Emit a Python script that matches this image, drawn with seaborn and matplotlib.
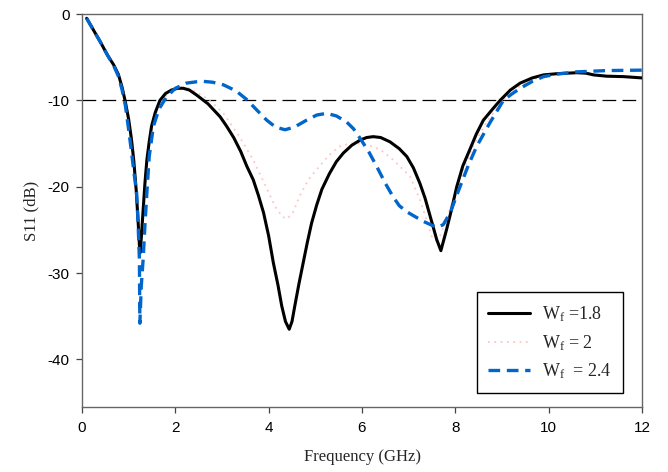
import matplotlib
matplotlib.use("Agg")
import matplotlib.pyplot as plt
import seaborn as sns
import pandas as pd

# Return loss of the antenna for three feed widths (GHz, dB)
freq_18 = [0.10, 0.25, 0.40, 0.55, 0.68, 0.78, 0.86, 0.93, 1.00, 1.06, 1.11, 1.16, 1.20, 1.24,
           1.27, 1.31, 1.35, 1.39, 1.44, 1.49, 1.57, 1.67, 1.79, 1.92, 2.05, 2.17, 2.30, 2.46,
           2.70, 2.96, 3.10, 3.25, 3.40, 3.53, 3.67, 3.78, 3.89, 4.00, 4.10, 4.20, 4.28, 4.36,
           4.44, 4.50, 4.56, 4.65, 4.74, 4.83, 4.92, 5.03, 5.14, 5.30, 5.45, 5.60, 5.78, 5.96,
           6.10, 6.24, 6.40, 6.60, 6.80, 6.96, 7.10, 7.24, 7.35, 7.46, 7.60, 7.69, 7.81, 7.92,
           8.03, 8.16, 8.31, 8.45, 8.60, 8.80, 8.96, 9.18, 9.39, 9.65, 9.89, 10.20, 10.60, 10.80,
           10.96, 11.24, 11.60, 12.00]
s11_18 = [-0.5, -1.9, -3.3, -4.8, -5.9, -7.0, -8.5, -10.2, -12.2, -14.5, -17.0, -20.3, -23.8, -27.7,
          -26.0, -22.7, -19.5, -16.9, -14.8, -13.0, -11.4, -10.0, -9.2, -8.8, -8.6, -8.6, -8.8, -9.4,
          -10.4, -11.9, -13.0, -14.3, -15.9, -17.6, -19.2, -21.0, -23.0, -25.7, -28.8, -31.4, -33.8, -35.6,
          -36.5, -35.6, -33.8, -31.2, -28.8, -26.4, -24.2, -22.1, -20.3, -18.5, -17.1, -16.1, -15.2, -14.6,
          -14.3, -14.2, -14.3, -14.8, -15.6, -16.5, -17.8, -19.6, -21.3, -23.4, -26.1, -27.4, -25.0, -22.6,
          -20.0, -17.6, -15.7, -13.9, -12.3, -11.0, -10.0, -8.8, -8.0, -7.4, -7.05, -6.9, -6.8, -6.85,
          -7.05, -7.2, -7.25, -7.4]

freq_20 = [0.10, 0.25, 0.40, 0.55, 0.68, 0.78, 0.86, 0.93, 1.00, 1.06, 1.11, 1.16, 1.20, 1.24,
           1.28, 1.32, 1.37, 1.44, 1.52, 1.62, 1.78, 1.95, 2.10, 2.30, 2.60, 2.80, 3.03, 3.35,
           3.67, 3.96, 4.15, 4.30, 4.40, 4.52, 4.67, 4.85, 5.03, 5.30, 5.53, 5.75, 5.96, 6.15,
           6.39, 6.67, 7.03, 7.24, 7.38, 7.49, 7.58, 7.68, 7.80, 7.95, 8.15, 8.39, 8.67, 9.00,
           9.39, 9.89, 10.30, 10.60, 11.24, 12.00]
s11_20 = [-0.5, -1.9, -3.3, -4.8, -5.9, -7.1, -8.6, -10.4, -12.5, -14.8, -17.4, -20.8, -24.5, -28.0,
          -24.5, -21.0, -17.8, -14.9, -12.7, -11.0, -9.6, -8.7, -8.5, -8.6, -9.5, -10.3, -11.5, -14.0,
          -16.9, -20.2, -22.4, -23.5, -23.7, -23.0, -21.0, -19.2, -18.0, -16.3, -15.3, -15.0, -15.0, -15.2,
          -15.7, -16.9, -18.8, -21.5, -23.8, -25.7, -26.2, -25.6, -24.0, -21.5, -18.3, -15.2, -12.5, -10.1,
          -8.3, -7.1, -6.85, -6.8, -7.1, -7.3]

freq_24 = [0.10, 0.25, 0.40, 0.55, 0.68, 0.78, 0.86, 0.93, 0.99, 1.05, 1.11, 1.17, 1.20, 1.23,
           1.24, 1.27, 1.31, 1.35, 1.39, 1.44, 1.53, 1.65, 1.81, 2.00, 2.24, 2.45, 2.60, 2.80,
           3.03, 3.30, 3.53, 3.76, 3.96, 4.15, 4.35, 4.55, 4.81, 5.03, 5.24, 5.45, 5.67, 5.82,
           5.96, 6.15, 6.31, 6.50, 6.67, 6.80, 6.96, 7.31, 7.60, 7.74, 7.89, 8.10, 8.28, 8.46,
           8.74, 9.03, 9.20, 9.39, 9.65, 9.89, 10.20, 10.60, 11.24, 12.00]
s11_24 = [-0.5, -1.9, -3.3, -4.8, -6.0, -7.2, -8.8, -10.6, -13.0, -15.5, -18.2, -20.7, -24.0, -28.4,
          -35.8, -31.5, -28.4, -24.3, -20.7, -16.5, -13.0, -11.0, -9.6, -8.6, -8.0, -7.85, -7.8, -7.9,
          -8.2, -8.9, -9.9, -11.2, -12.3, -13.1, -13.4, -13.1, -12.3, -11.7, -11.5, -11.8, -12.5, -13.3,
          -14.4, -16.0, -17.6, -19.6, -21.2, -22.2, -22.9, -24.0, -24.7, -24.4, -23.0, -20.0, -17.5, -15.3,
          -12.6, -10.0, -9.3, -8.6, -7.8, -7.25, -6.95, -6.7, -6.55, -6.5]

labels = [r"W$_\mathregular{f}$ =1.8", r"W$_\mathregular{f}$ = 2", r"W$_\mathregular{f}$  = 2.4"]
x_ticks = [0, 2, 4, 6, 8, 10, 12]
y_ticks = [0, -10, -20, -30, -40]

sns.set_style("white")
plt.rcParams["font.family"] = ["Liberation Sans", "DejaVu Sans"]
plt.rcParams["axes.unicode_minus"] = False
plt.rcParams["mathtext.fontset"] = "custom"
plt.rcParams["mathtext.rm"] = "Liberation Serif"
plt.rcParams["mathtext.it"] = "Liberation Serif"

fig = plt.figure(figsize=(6.68, 4.72), dpi=100)
ax = fig.add_axes([82 / 668, 1 - 407 / 472, 560 / 668, 393 / 472])

df18 = pd.DataFrame({"f": freq_18, "s": s11_18})
df20 = pd.DataFrame({"f": freq_20, "s": s11_20})
df24 = pd.DataFrame({"f": freq_24, "s": s11_24})

ax.axhline(-10, color="black", lw=0.9, ls=(0, (11, 5)), zorder=1)

sns.lineplot(data=df20, x="f", y="s", ax=ax, estimator=None, sort=False,
             color="#ffc4c4", lw=1.3, ls=(0, (1, 2.5)), zorder=2)
sns.lineplot(data=df18, x="f", y="s", ax=ax, estimator=None, sort=False,
             color="black", lw=2.2, zorder=3)
sns.lineplot(data=df24, x="f", y="s", ax=ax, estimator=None, sort=False,
             color="#0066cc", lw=2.4, ls=(0, (3.5, 2)), zorder=4)

lines = ax.get_lines()
l20, l18, l24 = lines[1], lines[2], lines[3]
for ln in (l18, l20, l24):
    ln.set_solid_joinstyle("round")
    ln.set_dash_joinstyle("round")

ax.set_xlim(0, 12)
ax.set_ylim(-45.5, 0)
ax.set_xticks(x_ticks)
ax.set_yticks(y_ticks)
ax.tick_params(axis="both", direction="out", length=4, width=0.9, colors="#444444",
               labelsize=11, labelcolor="black", pad=5, bottom=True, left=True)
ax.tick_params(axis="x", pad=6)
for sp in ax.spines.values():
    sp.set_color("#666666")
    sp.set_linewidth(1.0)

ax.set_xlabel("Frequency (GHz)", family="Liberation Serif", fontsize=12, labelpad=10)
ax.set_ylabel("S11 (dB)", family="Liberation Serif", fontsize=12, labelpad=6)

leg = ax.legend([l18, l20, l24], labels, loc="lower right",
                bbox_to_anchor=((623 - 82) / 560, (407 - 393) / 393), borderaxespad=0,
                prop={"family": "Liberation Serif", "size": 13}, frameon=True, fancybox=False,
                edgecolor="black", framealpha=1, handlelength=2.3, labelspacing=0.5,
                borderpad=0.65, handletextpad=0.65)
leg.get_frame().set_linewidth(1.0)

fig.savefig("out.png", dpi=100)
